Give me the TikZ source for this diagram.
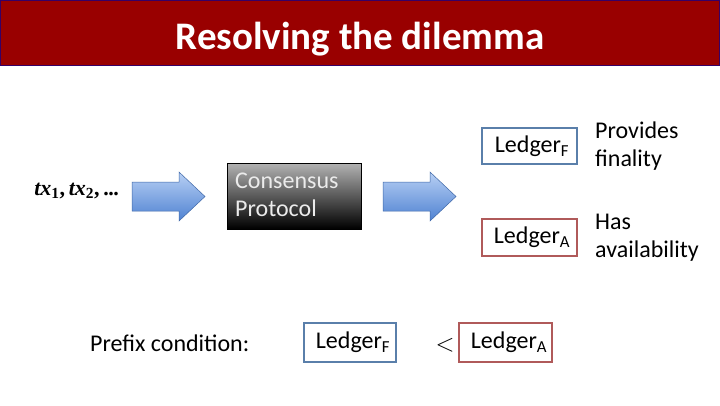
\documentclass[tikz,border=0pt]{standalone}
\usepackage{fontspec}
\setmainfont{Carlito}
\newfontfamily\txfont{Liberation Serif}
\usetikzlibrary{shapes.arrows}
\definecolor{titlered}{HTML}{990000}
\definecolor{ledgerblue}{HTML}{5A7FAA}
\definecolor{ledgerred}{HTML}{B05A5A}
\definecolor{arrowtop}{HTML}{B8D0F4}
\definecolor{arrowbot}{HTML}{4F82D2}
\newcommand{\blockarrow}[2]{% #1 = left x, #2 = name
  \path[draw=arrowbot!80!black, line width=0.5pt, top color=arrowtop, bottom color=arrowbot]
    (#1,182) -- ++(47,0) -- ++(0,-10) -- ++(26,24.5) -- ++(-26,24.5) -- ++(0,-10) -- ++(-47,0) -- cycle;
  \coordinate (#2) at (#1+36,196.5);}
\tikzset{
  ledgerF/.style={draw=ledgerblue, line width=2.5pt, inner sep=0pt},
  ledgerA/.style={draw=ledgerred, line width=2.5pt, inner sep=0pt},
  body/.style={font=\fontsize{24}{29}\selectfont, inner sep=0pt},
  twoline/.style={font=\fontsize{24}{28}\selectfont, inner sep=0pt, align=left},
}
\begin{document}
\begin{tikzpicture}[x=1pt,y=-1pt]
\useasboundingbox (0,0) rectangle (720,405);
\fill[white] (0,0) rectangle (720,405);
% title bar
\draw[fill=titlered, draw=black!40!titlered!60!blue, line width=0.8pt] (0.5,0.5) rectangle (719.5,65);
\node[text=white, font=\fontsize{39}{44}\bfseries\selectfont] (title) at (360,39) {Resolving the dilemma};
% input
\node[inner sep=0pt, anchor=east, font=\fontsize{22}{26}\selectfont\txfont\bfseries] (tx) at (119,191)
  {\textit{tx}\textsubscript{1},\,\textit{tx}\textsubscript{2},\,.\kern-0.5pt.\kern-0.5pt.};
\blockarrow{132}{arr1}
\node[draw=black, line width=0.8pt, top color=black!30, bottom color=black,
      minimum width=134pt, minimum height=66pt, inner sep=0pt] (cons) at (294,196) {};
\node[twoline, text=white!92!black, anchor=north west] (constext) at (235,173) {Consensus\\Protocol};
\blockarrow{383}{arr2}
% ledgers
\node[ledgerF, minimum width=95pt, minimum height=36pt] (lf) at (529.5,146) {};
\node[body] at (532,146) {Ledger\textsubscript{F}};
\node[ledgerA, minimum width=95pt, minimum height=37pt] (la) at (529.5,237.5) {};
\node[body] at (532,237.5) {Ledger\textsubscript{A}};
\node[twoline, anchor=west] (fin) at (595,146) {Provides\\finality};
\node[twoline, anchor=west] (avail) at (595,238) {Has\\availability};
% prefix condition
\node[body, anchor=west] (prefix) at (90,343) {Prefix condition:};
\node[ledgerF, minimum width=92pt, minimum height=39pt] (lf2) at (350,342.5) {};
\node[body] at (353,342.5) {Ledger\textsubscript{F}};
\node[inner sep=0pt, font=\fontsize{28}{30}\selectfont] (lt) at (445,345) {$<$};
\node[ledgerA, minimum width=93pt, minimum height=39pt] (la2) at (505.5,342.5) {};
\node[body] at (509,342.5) {Ledger\textsubscript{A}};
\end{tikzpicture}
\end{document}
